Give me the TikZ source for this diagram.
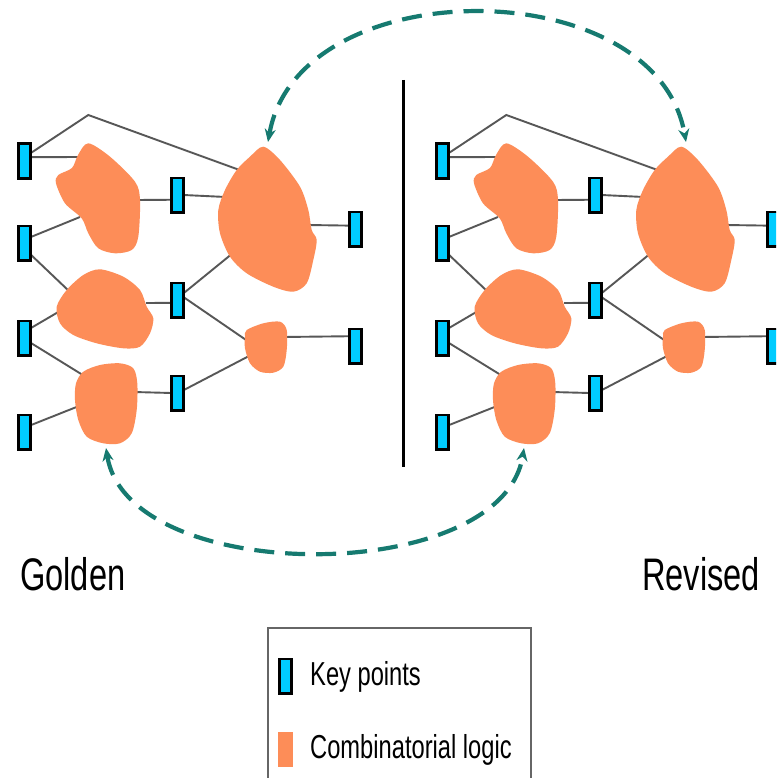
\documentclass[tikz,border=0pt]{standalone}
\usepackage{fontspec}
\setmainfont{Liberation Sans}
\usepackage{graphicx}
\usetikzlibrary{arrows.meta}
\pgfdeclarelayer{wires}
\pgfsetlayers{wires,main}
\definecolor{logicorange}{RGB}{253,141,88}
\definecolor{keycyan}{RGB}{0,204,255}
\definecolor{linkteal}{RGB}{22,122,112}
\newcommand\tallfont[2]{\fontsize{#1}{#1}\selectfont\scalebox{1}[1.4]{#2}}

\tikzset{
  keypt/.style={draw=black, line width=2.8pt, fill=keycyan, minimum width=12.2pt,
    minimum height=34.2pt, inner sep=0pt, outer sep=0pt},
  wire/.style={draw=black!66, line width=1.9pt},
  logic/.style={fill=logicorange},
  link/.style={draw=linkteal, line width=4.2pt, dash pattern=on 20pt off 11pt,
    {Stealth[length=13pt,width=11pt]}-{Stealth[length=13pt,width=11pt]}},
  label/.style={anchor=base west, inner sep=0pt},
  % one netlist: inputs, logic clouds, intermediate and output key points
  panel/.pic={
    \node[keypt] (-k1) at (24.5,161) {};
    \node[keypt] (-k2) at (24.5,243) {};
    \node[keypt] (-k3) at (24.5,338) {};
    \node[keypt] (-k4) at (24.5,432) {};
    \node[keypt] (-m1) at (177.5,195) {};
    \node[keypt] (-m2) at (177.5,300) {};
    \node[keypt] (-m3) at (177.5,393) {};
    \node[keypt] (-o1) at (355.5,229) {};
    \node[keypt] (-o2) at (355.5,346) {};
    % attachment points on the clouds
    \coordinate (-bend) at (88.3,115);
    \coordinate (-b4top) at (245,172);
    \coordinate (-b1a) at (80,157);
    \coordinate (-b1b) at (80,217);
    \coordinate (-b2a) at (70,292);
    \coordinate (-b2b) at (60,311);
    \coordinate (-b3a) at (86,377);
    \coordinate (-b3b) at (79,406);
    \coordinate (-b1c) at (136,200);
    \coordinate (-b4b) at (226,197);
    \coordinate (-b2c) at (146,303);
    \coordinate (-b4c) at (233,253);
    \coordinate (-b5a) at (249,342);
    \coordinate (-b3c) at (134,392);
    \coordinate (-b5b) at (249,356);
    \coordinate (-b4d) at (308,225);
    \coordinate (-b5c) at (283,337);
    \coordinate (-tip4) at (268,142);
    \coordinate (-tip3) at (106,448);
    % wires, kept beneath clouds and key points
    \begin{pgfonlayer}{wires}
      \draw[wire] (-k1.52) -- (-bend) -- (-b4top);
      \draw[wire] (-k1.32) -- (-b1a);
      \draw[wire] (-k2.44) -- (-b1b);
      \draw[wire] (-k2.-62) -- (-b2a);
      \draw[wire] (-k3.58) -- (-b2b);
      \draw[wire] (-k3.-38) -- (-b3a);
      \draw[wire] (-k4.48) -- (-b3b);
      \draw[wire] (-b1c) -- (-m1.218);
      \draw[wire] (-m1.east) -- (-b4b);
      \draw[wire] (-b2c) -- (-m2.205);
      \draw[wire] (-m2.48) -- (-b4c);
      \draw[wire] (-m2.25) -- (-b5a);
      \draw[wire] (-b3c) -- (-m3.west);
      \draw[wire] (-m3.25) -- (-b5b);
      \draw[wire] (-b4d) -- (-o1.151);
      \draw[wire] (-b5c) -- (-o2.122);
    \end{pgfonlayer}
    % combinational logic clouds
    \fill[logic] plot[smooth cycle] coordinates {(88.3,143.3) (110,156.7) (135,181.7)
      (140,200) (138.3,236.7) (131.7,250) (115,253.3) (98.3,248.3) (88.3,233.3)
      (81.7,218.3) (65,203.3) (56,183.3) (58.3,175) (72,168) (78,155)};
    \fill[logic] plot[smooth cycle] coordinates {(100,269.3) (123.3,276.7) (140,290)
      (146.7,306.7) (153.3,318.3) (150,333.3) (140,346.7) (123.3,348.3) (96.7,343.3)
      (73.3,335) (60,323.3) (56.7,306.7) (66.7,290) (83.3,275)};
    \fill[logic] plot[smooth cycle] coordinates {(83.3,371.7) (100,365) (120,363.3)
      (133.3,368.3) (137.3,383.3) (136.7,410) (131.7,433.3) (120,443.3) (103.3,443.3)
      (86.7,436.7) (78.3,420) (75,400) (76,383.3)};
    \fill[logic] plot[smooth cycle] coordinates {(263.3,146.7) (280,160) (300,186.7)
      (308.3,210) (311.7,230) (316.7,240) (313.3,260) (306.7,283.3) (293.3,291.7)
      (273.3,286.7) (246.7,273.3) (230,256.7) (220,233.3) (218.3,210) (225,190)
      (236.7,170) (250,156.7)};
    \fill[logic] plot[smooth cycle] coordinates {(246.7,330) (263.3,323.3) (280,321.7)
      (286.7,330) (286.7,350) (283.3,366.7) (273.3,372.7) (260,371.7) (250,363.3)
      (245,348.3) (245,336.7)};
  }
}

\begin{document}
\begin{tikzpicture}[x=1pt,y=-1pt]
  \useasboundingbox (0,0) rectangle (776,778);
  \begin{pgfonlayer}{wires}
    \fill[white] (0,0) rectangle (776,778);
  \end{pgfonlayer}
  \clip (0,0) rectangle (776,778);

  % golden and revised netlists
  \pic (L) at (0,0) {panel};
  \pic (R) at (418,0) {panel};

  % separator
  \draw[line width=3pt] (403,80) -- (403,467);

  % correspondence between matching logic
  \draw[link] (L-tip4) .. controls (298,-30) and (656,-30) .. (R-tip4);
  \draw[link] (L-tip3) .. controls (128,587) and (502,587) .. (R-tip3);

  % captions
  \node[label] (golden) at (20,590) {\tallfont{32.6}{Golden}};
  \node[label] (revised) at (642,590) {\tallfont{32.6}{Revised}};

  % legend
  \draw[draw=black!60, line width=1.2pt] (268,780) -- (268,628) -- (531,628) -- (531,780);
  \node[keypt] (legkey) at (285.5,676) {};
  \node[fill=logicorange, minimum width=15pt, minimum height=35pt, inner sep=0pt]
    (leglogic) at (285.5,749.5) {};
  \node[label] (keytext) at (310,685) {\tallfont{23.7}{Key points}};
  \node[label] (logictext) at (310,758) {\tallfont{23.7}{Combinatorial logic}};
\end{tikzpicture}
\end{document}
